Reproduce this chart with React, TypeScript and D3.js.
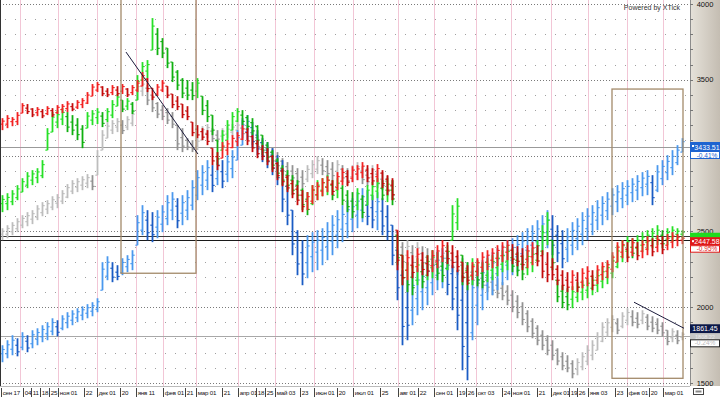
import React from 'react';
import * as d3 from 'd3';

// bars: [low, high] per period (axis units)
const redBars = [
  [3168,3247],[3181,3267],[3194,3254],[3201,3287],[3280,3346],[3274,3340],[3254,3313],[3260,3320],[3247,3307],[3267,3326],
  [3254,3313],[3274,3333],[3280,3340],[3287,3359],[3293,3346],[3307,3366],[3313,3379],[3340,3419],[3392,3472],[3419,3485],
  [3392,3458],[3386,3445],[3399,3465],[3392,3458],[3406,3472],[3386,3445],[3399,3465],[3419,3498],[3458,3551],[3419,3511],
  [3366,3445],[3392,3472],[3419,3498],[3379,3458],[3313,3406],[3300,3392],[3247,3340],[3234,3326],[3128,3221],[3115,3201],
  [3102,3181],[3069,3168],[2937,3049],[2904,3023],[2983,3089],[3003,3102],[3049,3135],[3062,3155],[3102,3201],[3069,3181],
  [3023,3135],[2983,3102],[2970,3069],[2937,3049],[2891,3003],[2838,2957],[2798,2917],[2759,2871],[2719,2838],[2673,2805],
  [2627,2772],[2640,2759],[2680,2805],[2706,2825],[2732,2851],[2759,2864],[2739,2838],[2772,2891],[2805,2917],[2798,2904],
  [2825,2930],[2838,2937],[2851,2957],[2825,2937],[2805,2917],[2825,2944],[2785,2904],[2739,2871],[2706,2851],[2244,2508],
  [2145,2343],[2178,2376],[2191,2343],[2231,2389],[2211,2363],[2204,2343],[2231,2376],[2257,2409],[2297,2442],[2284,2429],
  [2257,2409],[2231,2376],[2165,2297],[2145,2277],[2178,2297],[2204,2323],[2231,2363],[2244,2376],[2257,2389],[2270,2409],
  [2297,2429],[2310,2442],[2284,2416],[2270,2402],[2244,2389],[2257,2409],[2277,2429],[2270,2409],[2191,2376],[2165,2363],
  [2178,2323],[2145,2277],[2112,2244],[2099,2231],[2112,2244],[2099,2231],[2125,2257],[2138,2270],[2112,2244],[2152,2277],
  [2178,2297],[2191,2310],[2231,2363],[2297,2429],[2323,2442],[2297,2429],[2336,2455],[2310,2429],[2323,2442],[2343,2468],
  [2336,2455],[2363,2475],[2350,2468],[2376,2482],[2389,2495],[2402,2482],[2416,2468]
];

const greenBars = [
  [2627,2739],[2640,2752],[2673,2772],[2706,2805],[2759,2851],[2785,2891],[2805,2904],[2818,2917],[2851,2970],[3036,3181],
  [3155,3287],[3181,3300],[3201,3313],[3155,3287],[3135,3267],[3102,3247],[3049,3201],[3181,3287],[3201,3300],[3208,3313],
  [3188,3287],[3221,3313],[3247,3366],[3326,3406],[3287,3366],[3300,3379],[3274,3353],[3366,3531],[3498,3617],[3511,3630],
  [3696,3907],[3663,3841],[3643,3775],[3577,3709],[3485,3617],[3432,3564],[3379,3511],[3366,3498],[3366,3485],[3379,3511],
  [3267,3392],[3221,3366],[3135,3267],[2937,3102],[3036,3168],[3102,3234],[3168,3287],[3221,3313],[3201,3300],[3168,3267],
  [3135,3247],[3069,3201],[3003,3135],[2957,3089],[2904,3036],[2851,2983],[2805,2937],[2772,2904],[2739,2871],[2706,2838],
  [2640,2785],[2607,2759],[2673,2805],[2706,2838],[2732,2851],[2739,2871],[2706,2838],[2719,2851],[2673,2805],[2627,2772],
  [2587,2759],[2640,2785],[2587,2739],[2673,2805],[2706,2825],[2719,2851],[2706,2838],[2693,2851],[2673,2838],[2277,2475],
  [2145,2343],[2099,2297],[2079,2277],[2145,2323],[2125,2297],[2178,2343],[2191,2376],[2178,2363],[2165,2343],[2244,2409],
  [2442,2673],[2508,2719],[2145,2343],[2112,2297],[2145,2323],[2138,2310],[2125,2297],[2165,2323],[2178,2343],[2204,2363],
  [2231,2376],[2244,2409],[2231,2389],[2204,2363],[2178,2343],[2211,2376],[2231,2389],[2297,2442],[2343,2541],[2409,2627],
  [2244,2442],[2033,2178],[1993,2145],[1980,2125],[1993,2138],[2033,2165],[2046,2178],[2059,2191],[2079,2211],[2099,2244],
  [2125,2270],[2152,2297],[2191,2343],[2257,2409],[2297,2442],[2323,2468],[2323,2455],[2343,2475],[2363,2495],[2376,2508],
  [2389,2521],[2409,2541],[2389,2508],[2409,2521],[2429,2534],[2442,2521],[2455,2508]
];

const grayBars = [
  [2442,2521],[2455,2541],[2475,2561],[2495,2587],[2521,2607],[2534,2627],[2548,2640],[2574,2673],[2600,2693],[2614,2706],
  [2640,2732],[2653,2746],[2680,2772],[2719,2812],[2746,2838],[2759,2851],[2772,2864],[2785,2878],[2772,2871],[2871,3036],
  [3036,3168],[3115,3221],[3142,3234],[3155,3247],[3142,3234],[3168,3260],[3194,3300],[3366,3485],[3392,3498],[3333,3465],
  [3287,3399],[3247,3353],[3234,3333],[3208,3313],[3181,3287],[3036,3201],[3023,3181],[3036,3115],[3023,3102],[3036,3115],
  [3102,3194],[3115,3208],[3089,3181],[3089,3168],[3102,3181],[3115,3194],[3128,3208],[3142,3221],[3115,3234],[3102,3201],
  [3069,3168],[3036,3135],[2996,3102],[2970,3069],[2937,3049],[2904,3023],[2871,2983],[2838,2957],[2825,2937],[2798,2917],
  [2785,2904],[2825,2937],[2851,2970],[2878,2996],[2871,2983],[2851,2970],[2838,2957],[2851,2970],[2825,2937],[2805,2917],
  [2825,2937],[2838,2957],[2812,2930],[2798,2917],[2818,2937],[2785,2904],[2772,2891],[2732,2864],[2706,2838],[2297,2495],
  [2257,2429],[2277,2442],[2257,2409],[2277,2429],[2257,2402],[2244,2389],[2244,2376],[2231,2363],[2257,2389],[2244,2376],
  [2231,2363],[2211,2343],[2191,2323],[2165,2297],[2145,2277],[2125,2257],[2112,2244],[2099,2231],[2079,2211],[2059,2191],
  [2046,2165],[2013,2145],[1967,2112],[1927,2079],[1881,2033],[1835,1980],[1795,1927],[1749,1881],[1716,1848],[1683,1815],
  [1650,1782],[1617,1729],[1584,1703],[1571,1683],[1531,1650],[1551,1663],[1584,1703],[1617,1749],[1650,1782],[1716,1835],
  [1769,1901],[1808,1927],[1835,1947],[1822,1927],[1861,1967],[1881,1993],[1874,1980],[1861,1967],[1888,1980],[1848,1954],
  [1835,1940],[1822,1927],[1808,1901],[1749,1848],[1769,1861],[1756,1848],[1782,1835]
];

const blueBars = [
  [1637,1749],[1663,1782],[1683,1815],[1676,1795],[1716,1835],[1703,1815],[1729,1848],[1749,1861],[1769,1881],[1782,1901],
  [1815,1927],[1808,1914],[1848,1947],[1861,1967],[1881,1980],[1901,1993],[1914,2006],[1927,2020],[1940,2033],[1967,2059],
  [2112,2297],[2178,2336],[2165,2297],[2178,2277],[2211,2323],[2231,2343],[2244,2376],[2409,2607],[2475,2673],[2442,2640],
  [2429,2627],[2455,2640],[2495,2673],[2541,2739],[2574,2759],[2521,2719],[2541,2739],[2574,2772],[2640,2838],[2706,2904],
  [2739,2937],[2772,2970],[2759,2937],[2805,2983],[2785,2970],[2825,3003],[2851,3036],[2970,3168],[3069,3247],[3102,3267],
  [3049,3221],[3003,3168],[2957,3115],[2917,3089],[2871,3049],[2805,3003],[2627,2970],[2541,2805],[2343,2640],[2211,2508],
  [2145,2442],[2191,2475],[2231,2495],[2244,2508],[2277,2521],[2310,2561],[2343,2607],[2389,2640],[2429,2673],[2455,2706],
  [2495,2719],[2521,2759],[2561,2785],[2541,2772],[2521,2739],[2508,2759],[2475,2719],[2442,2673],[2277,2541],[2046,2376],
  [1749,2244],[1782,2178],[1881,2231],[1947,2257],[1980,2277],[2013,2310],[2079,2343],[2112,2376],[2125,2389],[2079,2363],
  [1980,2277],[1848,2244],[1584,2211],[1518,2145],[1782,2244],[1881,2277],[1980,2310],[2046,2343],[2079,2363],[2112,2389],
  [2145,2409],[2178,2442],[2211,2455],[2231,2475],[2257,2495],[2297,2521],[2323,2541],[2343,2574],[2376,2607],[2389,2640],
  [2343,2607],[2297,2541],[2257,2508],[2297,2521],[2343,2561],[2376,2587],[2409,2627],[2442,2653],[2475,2673],[2508,2706],
  [2541,2732],[2574,2759],[2607,2785],[2627,2805],[2653,2825],[2673,2838],[2693,2851],[2706,2871],[2732,2891],[2739,2904],
  [2673,2871],[2759,2937],[2805,2970],[2838,3003],[2871,3036],[2937,3069],[3023,3115]
];

const priceTicks = [4000, 3500, 3000, 2500, 2000, 1500];
const priceLabels = [4000, 3500, 2500, 2000, 1500]; // 3000 sits under the blue tag

const dateLabels = ['сен 17','04','11','18','25','ноя 01','22','дек 01','20','янв 11','фев 01','21','мар 01','21','апр 01','18','25','май 03','23','июн 01','20','июл 01','25','авг 01','22','сен 01','19','26','окт 03','24','ноя 01','21','дек 01','19','26','янв 03','23','фев 01','20','мар 01'];
const dateIdx = [-0.3,4.1,5.7,7.5,9.3,11.1,16.3,18.9,23.5,26.7,32.1,36.5,38.7,43.9,47.1,50.7,52.5,54.5,59.5,62.3,66.9,70.1,75.5,79.1,83.1,86.3,90.9,92.7,94.7,99.9,101.7,106.9,109.7,113.3,114.9,117.1,122.5,124.9,129.3,132.1];
const monthIdx = [3.5,11.1,18.9,26.7,32.1,38.7,47.1,54.5,62.3,70.1,79.1,86.3,94.7,101.7,109.7,117.1,124.9,132.1];

// last-price levels (axis units)
const levelValues = [3056, 2468, 2442, 1808];
const levelColors = ['#9a9a9a', '#3a3a3a', '#1a1a1a', '#a8a8a8'];

// annotation boxes [i0, i1, vLow, vHigh] and trend lines [i0, v0, i1, v1]
const boxes = [[23.7, 38.7, 2224, 4040], [121.9, 136.1, 1531, 3439]];
const trends = [[24.7, 3683, 39.1, 3010], [126.3, 2033, 136.3, 1861]];

const W = 720, H = 397, PR = 690, PB = 386;

export default function App() {
  const x = d3.scaleLinear().domain([0, 136]).range([2.5, 682.5]);
  const y = d3.scaleLinear().domain([1500, 4000]).range([383, 4]);

  const minor = d3.range(1500, 4001, 100).filter(v => v % 500 !== 0);
  const dotX = d3.range(5, PR, 10);

  const series = [
    { bars: grayBars, up: '#bdbdbd', down: '#929292' },
    { bars: blueBars, up: '#4a98ee', down: '#1a5cc4' },
    { bars: greenBars, up: '#26e026', down: '#10b010' },
    { bars: redBars, up: '#f22222', down: '#c40a0a' },
  ];

  const font = 'Liberation Sans, Arial, sans-serif';

  return (
    <svg width={W} height={H} style={{ position: 'absolute', left: 0, top: 0, background: '#fff' }} fontFamily={font}>
      <defs>
        <linearGradient id="panel" x1="0" x2="1" y1="0" y2="0">
          <stop offset="0" stopColor="#e6e2da" />
          <stop offset="1" stopColor="#c4bdb2" />
        </linearGradient>
        <clipPath id="plot"><rect x={0} y={0} width={PR} height={PB} /></clipPath>
      </defs>
      <rect x={0} y={0} width={W} height={H} fill="#fff" />

      <g clipPath="url(#plot)">
        {monthIdx.map((m, i) => (
          <line key={i} x1={Math.round(x(m)) + 0.5} x2={Math.round(x(m)) + 0.5} y1={0} y2={PB} stroke="#f2c6d6" />
        ))}
        {minor.map(v => dotX.map(d => (
          <rect key={v + '-' + d} x={d} y={Math.round(y(v))} width={1} height={1} fill="#a0a0a0" />
        )))}
        {priceTicks.map(v => (
          <line key={v} x1={0} x2={PR} y1={Math.round(y(v)) + 0.5} y2={Math.round(y(v)) + 0.5} stroke="#7a7a7a" strokeDasharray="1,2" />
        ))}
        {levelValues.map((v, i) => (
          <line key={i} x1={0} x2={PR} y1={Math.round(y(v)) + 0.5} y2={Math.round(y(v)) + 0.5} stroke={levelColors[i]} />
        ))}

        {series.map((s, si) => (
          <g key={si}>
            {s.bars.map((b, i) => {
              const prev = i > 0 ? s.bars[i - 1] : b;
              const isUp = b[0] + b[1] >= prev[0] + prev[1];
              const c = isUp ? s.up : s.down;
              const xi = x(i);
              const open = Math.max(b[0], Math.min(b[1], (prev[0] + prev[1]) / 2));
              const close = (b[0] + b[1]) / 2 + (isUp ? 1 : -1) * (b[1] - b[0]) * 0.25;
              return (
                <g key={i} stroke={c}>
                  <line x1={xi} x2={xi} y1={y(b[1])} y2={y(b[0])} strokeWidth={1.8} />
                  <line x1={xi - 2.2} x2={xi} y1={y(open)} y2={y(open)} strokeWidth={1.1} />
                  <line x1={xi} x2={xi + 2.2} y1={y(close)} y2={y(close)} strokeWidth={1.1} />
                </g>
              );
            })}
          </g>
        ))}

        {boxes.map((b, i) => (
          <rect key={i} x={x(b[0])} y={y(b[3])} width={x(b[1]) - x(b[0])} height={y(b[2]) - y(b[3])}
            fill="none" stroke="#a38a6a" strokeWidth={1.3} />
        ))}
        {trends.map((t, i) => (
          <line key={i} x1={x(t[0])} y1={y(t[1])} x2={x(t[2])} y2={y(t[3])} stroke="#1c1c3c" strokeWidth={1} />
        ))}
        <text x={680} y={10} fontSize={7} fill="#333" textAnchor="end">Powered by XTick</text>
      </g>

      <line x1={0.5} x2={0.5} y1={0} y2={PB} stroke="#333" />

      {/* right price panel */}
      <rect x={PR} y={0} width={W - PR} height={PB} fill="url(#panel)" />
      <line x1={PR + 0.5} x2={PR + 0.5} y1={0} y2={PB} stroke="#8c8c8c" />
      {d3.range(1500, 4001, 100).map(v => (
        <line key={v} x1={PR} x2={PR + 3} y1={Math.round(y(v)) + 0.5} y2={Math.round(y(v)) + 0.5} stroke="#777" />
      ))}
      {priceLabels.map(v => (
        <text key={v} x={705} y={y(v) + 2.5} fontSize={7.5} textAnchor="middle" fill="#111">{v}</text>
      ))}

      {/* price tags */}
      <rect x={PR} y={142} width={30} height={9} fill="#1e64d0" />
      <rect x={PR + 2} y={145} width={2} height={2} fill="#fff" />
      <text x={707} y={149.5} fontSize={7} textAnchor="middle" fill="#fff">3433.51</text>
      <rect x={PR + 0.5} y={151.5} width={29} height={7} fill="#fff" stroke="#1e64d0" />
      <text x={707} y={157.5} fontSize={6.5} textAnchor="middle" fill="#1e64d0">-0.41%</text>

      <rect x={PR} y={y(2468) - 3.5} width={30} height={5} fill="#1fdc1f" />
      <rect x={PR} y={y(2442) - 3} width={30} height={8} fill="#e01818" />
      <rect x={PR + 2} y={y(2442)} width={2} height={2} fill="#fff" />
      <text x={707} y={y(2442) + 3.5} fontSize={7} textAnchor="middle" fill="#fff">2447.58</text>
      <rect x={PR + 0.5} y={y(2442) + 5.5} width={29} height={6.5} fill="#fff" stroke="#e01818" />
      <text x={707} y={y(2442) + 11} fontSize={6.5} textAnchor="middle" fill="#e01818">-0.95%</text>

      <rect x={PR} y={y(1861) - 4} width={30} height={9} fill="#0c1848" />
      <text x={705} y={y(1861) + 3} fontSize={7} textAnchor="middle" fill="#fff">1861.45</text>
      <rect x={PR} y={y(1808) - 3} width={30} height={6} fill="#c8c8c8" />
      <text x={705} y={y(1808) + 2.5} fontSize={5.5} textAnchor="middle" fill="#e8e8e8">1808.22</text>
      <rect x={PR + 0.5} y={y(1808) + 3.5} width={29} height={7} fill="#fff" stroke="#222" />
      <text x={705} y={y(1808) + 9} fontSize={6.5} textAnchor="middle" fill="#bbb">-0.24%</text>

      {/* date strip */}
      <line x1={0} x2={PR} y1={PB + 0.5} y2={PB + 0.5} stroke="#bbb" />
      {dateLabels.map((l, i) => {
        const px = Math.max(Math.round(x(dateIdx[i])) + 0.5, 0.5);
        return (
          <g key={i}>
            <line x1={px} x2={px} y1={PB + 2} y2={H} stroke="#444" />
            <text x={px + 1.2} y={H - 2.5} fontSize={6.2} letterSpacing={-0.2} fill="#111">{l}</text>
          </g>
        );
      })}
      <rect x={693.5} y={388.5} width={10} height={6} fill="#fff" stroke="#444" />
      <rect x={695.5} y={390.5} width={6} height={2} fill="#888" />
    </svg>
  );
}
